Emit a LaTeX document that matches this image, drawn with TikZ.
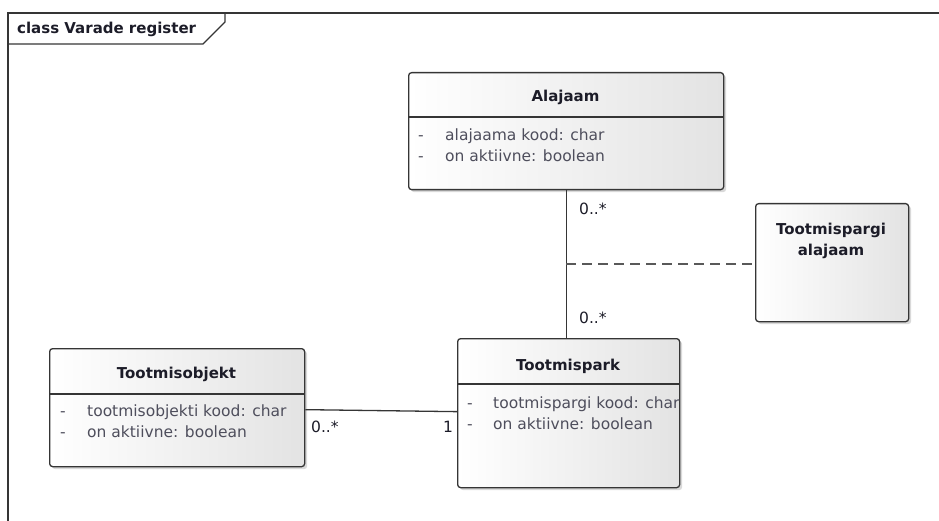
\documentclass[tikz,border=0pt]{standalone}
\usepackage{fontspec}
\setmainfont{DejaVu Sans}
\usetikzlibrary{shadows,calc}

\definecolor{linecol}{HTML}{353535}
\definecolor{textcol}{HTML}{1C1C28}
\definecolor{attrcol}{HTML}{4E4E5C}

\begin{document}
\begin{tikzpicture}[x=1pt,y=-1pt,
  classbox/.style={draw=linecol, line width=1.3pt, rounded corners=3pt,
    anchor=north west, inner sep=0pt, left color=white, right color=black!11,
    drop shadow={shadow xshift=2.5pt, shadow yshift=-2.5pt, opacity=0.3}},
  sepline/.style={draw=linecol, line width=1.2pt},
  title/.style={anchor=base, inner sep=0pt, text=textcol,
    font=\fontsize{15pt}{18pt}\selectfont\bfseries},
  attr/.style={anchor=base west, inner sep=0pt, text=attrcol,
    font=\fontsize{15.5pt}{18pt}\selectfont},
  mult/.style={anchor=base west, inner sep=0pt, text=textcol,
    font=\fontsize{15.5pt}{18pt}\selectfont},
  assoc/.style={draw=linecol, line width=1.3pt}]
 \useasboundingbox (0,0) rectangle (939,521);

 % diagram frame with its name tab
 \draw[linecol, line width=1.3pt] (8,521) -- (8,13) -- (939,13);
 \draw[linecol, line width=1.3pt] (8,44) -- (203,44) -- (225,22) -- (225,13);
 \node[title, anchor=base west] (frame) at (17,34) {class Varade register};

 % classes
 \node[classbox, minimum width=315pt, minimum height=117pt] (alajaam) at (408,72) {};
 \node[classbox, minimum width=153pt, minimum height=118pt] (tpalajaam) at (755,203) {};
 \node[classbox, minimum width=222pt, minimum height=149pt] (park) at (457,338) {};
 \node[classbox, minimum width=255pt, minimum height=118pt] (objekt) at (49,348) {};

 \draw[sepline] (alajaam.west |- 0,117) -- (alajaam.east |- 0,117);
 \draw[sepline] (park.west |- 0,384) -- (park.east |- 0,384);
 \draw[sepline] (objekt.west |- 0,394) -- (objekt.east |- 0,394);

 \node[title] (alajaam-t) at (565.5,102) {Alajaam};
 \node[title] (tpalajaam-t1) at (831,235) {Tootmispargi};
 \node[title] (tpalajaam-t2) at (831,256) {alajaam};
 \node[title] (park-t) at (568,370) {Tootmispark};
 \node[title] (objekt-t) at (176.5,378) {Tootmisobjekt};

 \foreach \t [count=\i] in {alajaama kood: char, on aktiivne: boolean} {
   \node[attr] (alajaam-v\i) at (418,120+21*\i) {-};
   \node[attr] (alajaam-a\i) at (445,120+21*\i) {\t};
 }
 \begin{scope}
  \clip (park.north west) rectangle (park.south east);
  \foreach \t [count=\i] in {tootmispargi kood: char, on aktiivne: boolean} {
    \node[attr] (park-v\i) at (467,387+21*\i) {-};
    \node[attr] (park-a\i) at (493,387+21*\i) {\t};
  }
 \end{scope}
 \foreach \t [count=\i] in {tootmisobjekti kood: char, on aktiivne: boolean} {
   \node[attr] (objekt-v\i) at (60,395+21*\i) {-};
   \node[attr] (objekt-a\i) at (87,395+21*\i) {\t};
 }

 % associations
 \draw[assoc] (alajaam.south) -- (alajaam.south |- park.north);
 \coordinate (mid) at ($(alajaam.south)!0.5!(alajaam.south |- park.north)$);
 \draw[draw=black!65, line width=1.3pt, dash pattern=on 10pt off 6pt]
   (mid) -- (mid -| tpalajaam.west);
 \draw[assoc] ([yshift=-2pt]objekt.east) -- ([yshift=1.5pt]park.west);

 \node[mult] (m1) at (579,215) {0..*};
 \node[mult] (m2) at (579,323) {0..*};
 \node[mult] (m3) at (311,432) {0..*};
 \node[mult] (m4) at (443,432) {1};
\end{tikzpicture}
\end{document}
